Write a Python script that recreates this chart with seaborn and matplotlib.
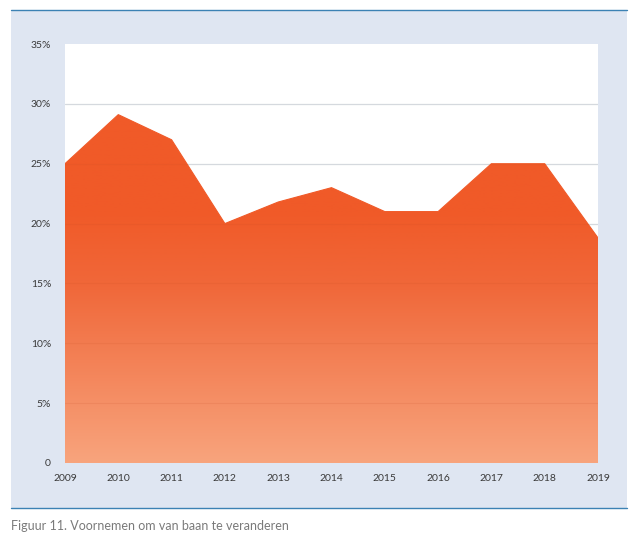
import numpy as np
import pandas as pd
import matplotlib
matplotlib.use("Agg")
import matplotlib.pyplot as plt
import seaborn as sns
from matplotlib.patches import Rectangle, Polygon
from matplotlib.lines import Line2D
from matplotlib.colors import LinearSegmentedColormap

years = [2009, 2010, 2011, 2012, 2013, 2014, 2015, 2016, 2017, 2018, 2019]
values = [25.0, 29.1, 27.0, 20.0, 21.8, 23.0, 21.0, 21.0, 25.0, 25.0, 18.8]
y_ticks = [0, 5, 10, 15, 20, 25, 30, 35]
y_labels = ["0", "5%", "10%", "15%", "20%", "25%", "30%", "35%"]
caption = "Figuur 11. Voornemen om van baan te veranderen"

df = pd.DataFrame({"jaar": years, "waarde": values})

sns.set_theme(style="white")
plt.rcParams["font.family"] = ["Lato", "DejaVu Sans"]

W, H = 640, 539
fig = plt.figure(figsize=(W / 100, H / 100), dpi=100)
fig.patch.set_facecolor("white")

# background panel
fig.patches.append(Rectangle((11 / W, 1 - 508 / H), (627 - 11) / W, (508 - 10) / H,
                             transform=fig.transFigure, facecolor="#dfe6f2",
                             edgecolor="none", zorder=-10))
fig.lines.append(Line2D([11 / W, 627 / W], [1 - 10 / H, 1 - 10 / H],
                        transform=fig.transFigure, color="#3c82b4", lw=1.0, zorder=-5))
fig.lines.append(Line2D([11 / W, 627 / W], [1 - 508 / H, 1 - 508 / H],
                        transform=fig.transFigure, color="#3c82b4", lw=1.0, zorder=-5))

ax = fig.add_axes([65 / W, 1 - 463 / H, (598 - 65) / W, (463 - 44) / H])
ax.set_zorder(1)
ax.set_facecolor("white")

# grid under area
for t in y_ticks[1:-1]:
    ax.axhline(t, color="#d5d9de", lw=0.9, zorder=0.5)

# gradient fill
cmap = LinearSegmentedColormap.from_list(
    "g", [(0.0, "#f8a47d"), (0.42, "#f0683a"), (0.6, "#f05a28"), (1.0, "#f05a28")])
grad = np.linspace(0, 1, 256).reshape(-1, 1)
im = ax.imshow(grad, cmap=cmap, origin="lower", aspect="auto",
               extent=[years[0], years[-1], 0, 35], zorder=1)
verts = [(years[0], 0)] + list(zip(years, values)) + [(years[-1], 0)]
poly = Polygon(verts, closed=True, facecolor="none", edgecolor="none")
ax.add_patch(poly)
im.set_clip_path(poly)

sns.lineplot(data=df, x="jaar", y="waarde", ax=ax, color="#f05a28", lw=0.8, zorder=2)

# faint grid over area, clipped to the area
for t in y_ticks[1:-1]:
    ln = ax.axhline(t, color="#c24a20", lw=0.8, alpha=0.12, zorder=3)
    ln.set_clip_path(poly)

ax.set_xlim(years[0], years[-1])
ax.set_ylim(0, 35)
ax.set_xticks(years)
ax.set_xticklabels([str(y) for y in years], fontsize=7.5, color="#3a3a3a")
ax.set_yticks(y_ticks)
ax.set_yticklabels(y_labels, fontsize=7.5, color="#3a3a3a")
ax.tick_params(axis="x", length=0, pad=8)
ax.tick_params(axis="y", length=0, pad=10)
ax.set_xlabel("")
ax.set_ylabel("")
for s in ax.spines.values():
    s.set_visible(False)

fig.text(11 / W, 1 - 526 / H, caption, fontsize=9, color="#7a7a7a",
         ha="left", va="center", family=["Lato", "DejaVu Sans"])

fig.savefig("out.png", dpi=100)
